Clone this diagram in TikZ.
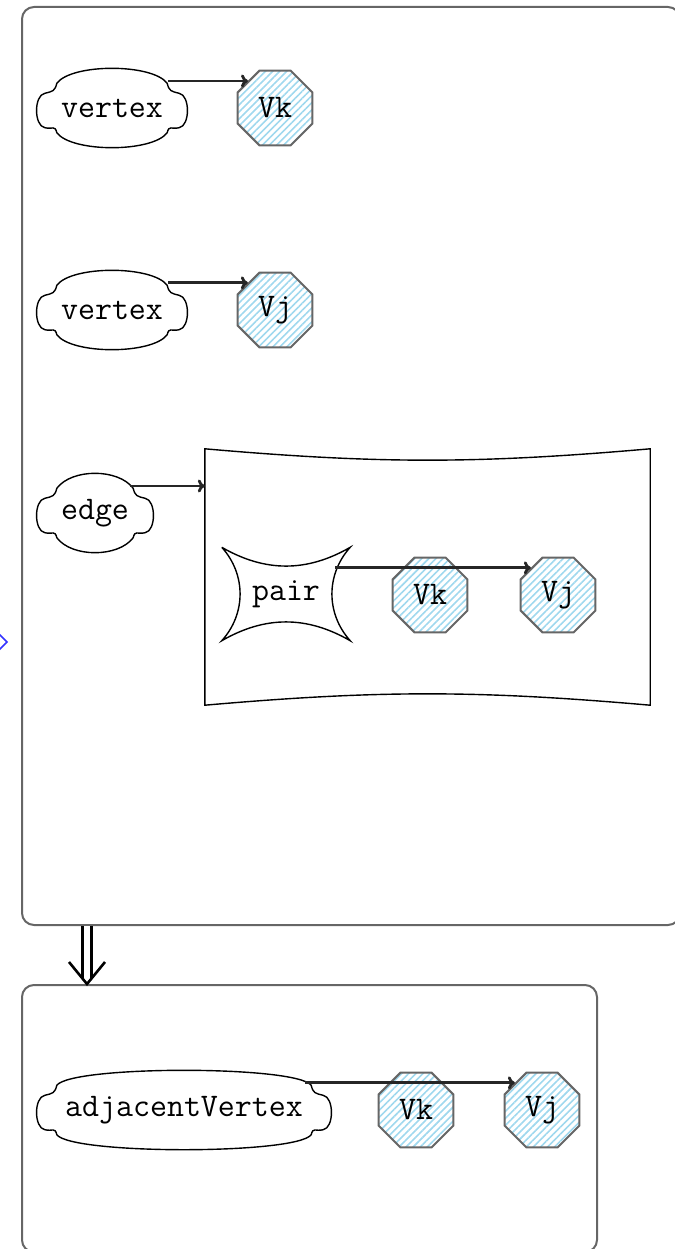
\documentclass[tikz,border=0pt]{standalone}
\usepackage{fontspec}
\usetikzlibrary{shapes.geometric,arrows.meta,patterns.meta}
\definecolor{hatch}{HTML}{9FD8EE}
\definecolor{edgegray}{HTML}{666666}
% four puffed outline round a (rectangular) node
\newcommand{\puffs}[1]{%
  \draw[line width=1.4pt]
    ([shift={(19,-15)}]#1.north west) coordinate (pa)
    .. controls +(15,20) and +(-15,20) .. ([shift={(-19,-15)}]#1.north east)
    .. controls +(2,-8) and +(-8,2) .. ([shift={(-7,-25)}]#1.north east)
    .. controls +(11,-2) and +(11,2) .. ([shift={(-7,20)}]#1.south east)
    .. controls +(-8,-2) and +(2,8) .. ([shift={(-19,15)}]#1.south east)
    .. controls +(-15,-20) and +(15,-20) .. ([shift={(19,15)}]#1.south west)
    .. controls +(-2,8) and +(8,-2) .. ([shift={(7,20)}]#1.south west)
    .. controls +(-11,2) and +(-11,-2) .. ([shift={(7,-25)}]#1.north west)
    .. controls +(8,2) and +(-2,-8) .. (pa) -- cycle;}

\begin{document}
\begin{tikzpicture}[x=1pt, y=1pt,
    every node/.style={font=\ttfamily\fontsize{33}{38}\selectfont},
    blob/.style={minimum height=79pt, inner sep=0pt},
    vert/.style={regular polygon, regular polygon sides=8, minimum size=81pt, inner sep=0pt, draw=edgegray, line width=2pt, pattern={Lines[angle=45, distance=5pt, line width=1.6pt]}, pattern color=hatch},
    box/.style={draw=edgegray, line width=2pt, rounded corners=12pt},
    link/.style={-{To[length=7pt, width=13pt]}, line width=2.8pt, draw=black!85}]
  \useasboundingbox (0,0) rectangle (674,-1249);
  % outer and lower boxes
  \node[box, minimum width=658pt, minimum height=918pt] (outer) at (351,-466) {};
  \node[box, minimum width=575pt, minimum height=267pt] (result) at (309.5,-1118.5) {};
  % open double arrow between the boxes
  \coordinate (dtop) at ([xshift=66pt]outer.south west);
  \coordinate (dbot) at ([xshift=66pt]result.north west);
  \draw[double, double distance=6pt, line width=2.6pt, shorten >=6pt] (dtop) -- (dbot);
  \draw[line width=2.6pt] ([shift={(-18,22)}]dbot) -- (dbot) -- ([shift={(18,22)}]dbot);
  % selection handle on the left edge
  \draw[blue!80, line width=1.5pt] (-7,-642) -- (0,-635) -- (7,-642) -- (0,-649) -- cycle;
  % vertex k
  \node[blob, minimum width=148pt] (vtx1) at (112,-108) {vertex};
  \puffs{vtx1}
  \node[vert] (vk1) at (275,-108) {Vk};
  \draw[link] ([xshift=-18pt]vk1.135 -| vtx1.east) -- (vk1.135);
  % vertex j
  \node[blob, minimum width=148pt] (vtx2) at (112,-310) {vertex};
  \puffs{vtx2}
  \node[vert] (vj1) at (275,-310) {Vj};
  \draw[link] ([xshift=-18pt]vj1.135 -| vtx2.east) -- (vj1.135);
  % edge with its pair
  \node[blob, minimum width=114pt] (edg) at (95,-513) {edge};
  \puffs{edg}
  \node[minimum width=445pt, minimum height=256pt] (frame) at (427.5,-577) {};
  \draw[line width=1.4pt] (frame.north west) to[bend right=5] (frame.north east) -- (frame.south east) to[bend right=5] (frame.south west) -- cycle;
  \coordinate (edgeout) at ([shift={(-22pt,27pt)}]edg.east);
  \draw[link] (edgeout) -- (edgeout -| frame.west);
  \node[minimum width=128pt, minimum height=93pt] (pair) at (286,-594) {pair};
  \draw[line width=1.4pt] (pair.north west) to[bend right=30] (pair.north east) to[bend right=42] (pair.south east) to[bend right=30] (pair.south west) to[bend right=42] (pair.north west);
  \node[vert] (vk2) at (430,-595) {Vk};
  \node[vert] (vj2) at (558,-595) {Vj};
  \draw[link] ([xshift=-15pt]vj2.135 -| pair.east) -- (vj2.135);
  % adjacent vertex
  \node[blob, minimum width=292pt] (adj) at (184,-1110) {adjacentVertex};
  \puffs{adj}
  \node[vert] (vk3) at (416,-1110) {Vk};
  \node[vert] (vj3) at (542,-1110) {Vj};
  \draw[link] ([xshift=-25pt]vj3.135 -| adj.east) -- (vj3.135);
\end{tikzpicture}
\end{document}
